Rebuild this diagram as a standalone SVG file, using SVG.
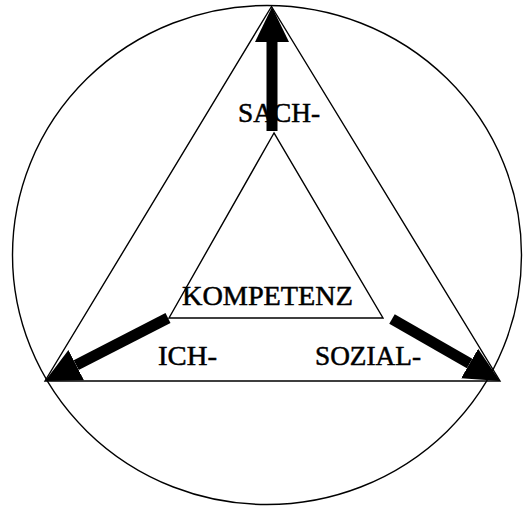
<svg xmlns="http://www.w3.org/2000/svg" width="523" height="506" viewBox="0 0 523 506">
  <defs>
    <style>
      .ln { fill: none; stroke: #000; stroke-width: 1.4; }
      .arrow { stroke: #000; stroke-width: 11; stroke-linecap: butt; fill: none; }
      .lbl { font-family: "Liberation Serif", "Times New Roman", serif; font-size: 27px; fill: #000; stroke: #000; stroke-width: 0.5; }
    </style>
    <marker id="head" markerUnits="userSpaceOnUse" markerWidth="36" markerHeight="36" viewBox="0 0 36 36" refX="0" refY="18" orient="auto">
      <path d="M0,1 L35,18 L0,35 Z" fill="#000"/>
    </marker>
  </defs>
  <rect width="523" height="506" fill="#fff"/>
  <g id="circle">
    <ellipse class="ln" cx="267" cy="255" rx="254.5" ry="249.5"/>
  </g>
  <g id="outer-triangle">
    <polygon class="ln" points="271.5,6.5 45,381 500,381"/>
  </g>
  <g id="inner-triangle">
    <polygon class="ln" points="274,133 169,318 383,318"/>
  </g>
  <g id="connectors">
    <line class="arrow" x1="272" y1="131" x2="272" y2="42" marker-end="url(#head)"/>
    <line class="arrow" x1="168" y1="318" x2="76.2" y2="365.1" marker-end="url(#head)"/>
    <line class="arrow" x1="392" y1="319" x2="469.6" y2="363.6" marker-end="url(#head)"/>
  </g>
  <g id="sach">
    <text class="lbl" x="238" y="121.5" textLength="82" lengthAdjust="spacingAndGlyphs">SACH-</text>
  </g>
  <g id="kompetenz">
    <text class="lbl" x="182" y="305" textLength="171" lengthAdjust="spacingAndGlyphs">KOMPETENZ</text>
  </g>
  <g id="ich">
    <text class="lbl" x="158" y="365" textLength="59" lengthAdjust="spacingAndGlyphs">ICH-</text>
  </g>
  <g id="sozial">
    <text class="lbl" x="315" y="365" textLength="106" lengthAdjust="spacingAndGlyphs">SOZIAL-</text>
  </g>
</svg>
